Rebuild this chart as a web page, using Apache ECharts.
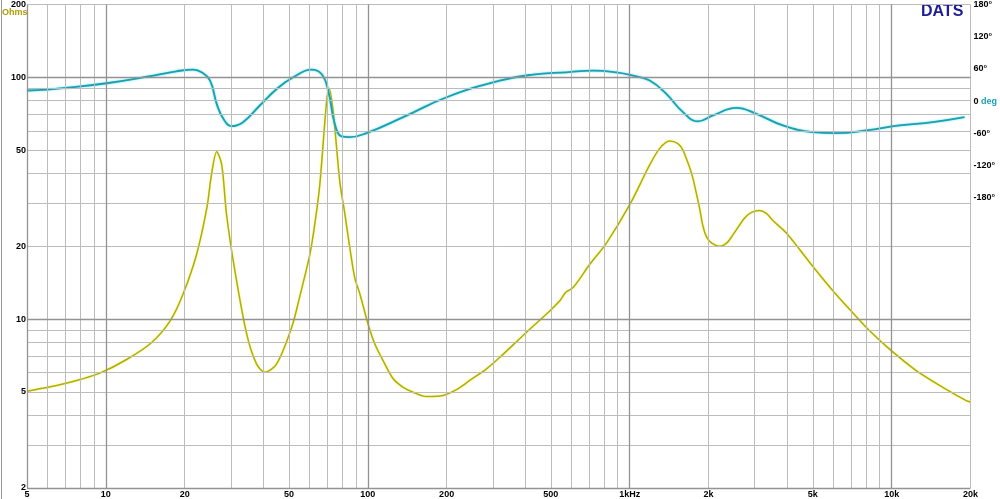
<!DOCTYPE html>
<html>
<head>
<meta charset="utf-8">
<script src="https://cdn.jsdelivr.net/npm/echarts@6/dist/echarts.min.js"></script>
<style>html,body{margin:0;padding:0;background:#fff;}#c{width:1000px;height:499px;}</style>
</head>
<body>
<div id="c"></div>
<script>
// Impedance magnitude (Ohms) vs frequency (Hz)
const impFreq = [
  5, 6.01, 6.98, 7.97, 9.49, 12.0, 14.96, 17.6, 19.7, 22.2,
  24.3, 25.3, 26.5, 27.7, 28.9, 31.1, 34.5, 37.6, 40.5, 44.9,
  51.2, 55.0, 60.1, 62.8, 65.6, 69.6, 71.2, 73.8, 78.2, 81.8,
  85.4, 89.2, 93.3, 100.3, 106.4, 114.4, 125, 136.5, 149, 167.5,
  193.9, 218, 245, 284, 319, 403, 495, 541, 570, 608,
  703, 815, 1000, 1192, 1302, 1420, 1528, 1597, 1646, 1694,
  1744, 1801, 1849, 1904, 1967, 2056, 2205, 2345, 2478, 2746,
  2920, 3133, 3332, 3512, 3961, 4453, 5004, 5965, 7112, 8236,
  9816, 12413, 15680, 19260, 20000];
const impOhm = [
  5.03, 5.22, 5.41, 5.62, 5.97, 6.8, 8.0, 9.83, 12.66, 18.5,
  28.8, 39.5, 49.2, 43.4, 27.0, 15.8, 8.66, 6.52, 6.02, 6.52,
  9.22, 12.4, 18.5, 24.8, 36.0, 79.0, 89.6, 71.9, 37.0, 27.1,
  19.7, 14.8, 12.7, 9.52, 7.88, 6.73, 5.66, 5.22, 4.98, 4.78,
  4.83, 5.10, 5.57, 6.22, 6.94, 8.80, 10.8, 11.9, 12.9, 13.5,
  16.8, 20.6, 29.7, 43.4, 50.8, 54.5, 53.2, 50.0, 46.0, 42.3,
  38.1, 32.7, 28.7, 24.2, 21.8, 20.6, 20.0, 20.6, 22.3, 26.2,
  27.6, 28.1, 27.3, 25.6, 22.7, 19.4, 16.5, 13.1, 10.6, 8.94,
  7.51, 6.12, 5.22, 4.60, 4.54];

// Phase (degrees) vs frequency (Hz)
const phFreq = [
  5, 5.94, 6.98, 10.07, 15.2, 18.6, 21.6, 23.2, 25.0, 26.5,
  28.1, 30.2, 33.4, 38.7, 44.9, 51.9, 61.0, 66.6, 70.6, 74.8,
  79.4, 85.4, 98.9, 136.5, 200, 319, 427, 573, 724, 890,
  1029, 1192, 1380, 1597, 1822, 2079, 2553, 3044, 3845, 5004,
  6146, 8000, 10724, 14359, 18974];
const phDeg = [
  19.9, 21.7, 24.7, 33.4, 47.7, 55.7, 58.8, 53.8, 38.4, -5.0,
  -32.8, -46.4, -39.0, -8.0, 22.8, 44.5, 58.8, 50.7, 19.9, -42.1,
  -65.5, -66.8, -59.4, -29.7, 7.4, 38.4, 49.5, 53.8, 57.0, 53.8,
  47.7, 38.4, 13.5, -20.4, -37.7, -26.5, -12.4, -23.6, -45.1, -57.5,
  -59.4, -54.4, -45.1, -39.0, -29.7];

// Tick labels
const xTickValues = [5, 10, 20, 50, 100, 200, 500, 1000, 2000, 5000, 10000, 20000];
const xTickLabels = ['5', '10', '20', '50', '100', '200', '500', '1kHz', '2k', '5k', '10k', '20k'];
const yTickValues = [2, 5, 10, 20, 50, 100, 200];
const yTickLabels = ['2', '5', '10', '20', '50', '100', '200'];
const phTickValues = [180, 120, 60, 0, -60, -120, -180];

// Grid line positions
const xGridMinor = [6, 7, 8, 9, 20, 30, 40, 50, 60, 70, 80, 90, 200, 300, 400, 500, 600, 700, 800, 900, 2000, 3000, 4000, 5000, 6000, 7000, 8000, 9000, 20000];
const xGridMajor = [5, 10, 100, 1000, 10000];
const yGridMinor = [3, 4, 5, 6, 7, 8, 9, 20, 30, 40, 50, 60, 70, 80, 90, 200];
const yGridMajor = [2, 10, 100];

const FONT = 'Arial, "Liberation Sans", sans-serif';
const MINOR = '#bcbcbc';
const MAJOR = '#939393';

const gridLines = []
  .concat(xGridMinor.map(v => ({ xAxis: v, lineStyle: { color: MINOR, width: 1, type: 'solid' } })))
  .concat(yGridMinor.map(v => ({ yAxis: v, lineStyle: { color: MINOR, width: 1, type: 'solid' } })))
  .concat(xGridMajor.map(v => ({ xAxis: v, lineStyle: { color: MAJOR, width: 1.3, type: 'solid' } })))
  .concat(yGridMajor.map(v => ({ yAxis: v, lineStyle: { color: MAJOR, width: 1.3, type: 'solid' } })));

const chart = echarts.init(document.getElementById('c'), null, { renderer: 'canvas' });
chart.setOption({
  animation: false,
  backgroundColor: '#ffffff',
  grid: { left: 27, right: 29, top: 2, bottom: 11, containLabel: false },
  xAxis: {
    type: 'log', logBase: 10, min: 5, max: 20000,
    axisLine: { show: false }, axisTick: { show: false }, splitLine: { show: false },
    axisLabel: {
      customValues: xTickValues,
      formatter: v => { const i = xTickValues.findIndex(t => Math.abs(t - v) / t < 1e-6); return i >= 0 ? xTickLabels[i] : ''; },
      fontFamily: FONT, fontWeight: 'bold', fontSize: 9, color: '#000', margin: 2
    }
  },
  yAxis: [{
    type: 'log', logBase: 10, min: 2, max: 200,
    axisLine: { show: false }, axisTick: { show: false }, splitLine: { show: false },
    axisLabel: {
      customValues: yTickValues,
      formatter: v => { const i = yTickValues.findIndex(t => Math.abs(t - v) / t < 1e-6); return i >= 0 ? yTickLabels[i] : ''; },
      fontFamily: FONT, fontWeight: 'bold', fontSize: 9, color: '#000', margin: 1
    }
  }, {
    type: 'value', position: 'right', min: -720, max: 180, interval: 60,
    axisLine: { show: false }, axisTick: { show: false }, splitLine: { show: false },
    axisLabel: {
      formatter: v => {
        if (phTickValues.indexOf(v) < 0) return '';
        if (v === 0) return '{a|0 }{b|deg}';
        return v + '°';
      },
      rich: {
        a: { fontFamily: FONT, fontWeight: 'bold', fontSize: 9, color: '#000' },
        b: { fontFamily: FONT, fontWeight: 'bold', fontSize: 9, color: '#1a9fb0' }
      },
      fontFamily: FONT, fontWeight: 'bold', fontSize: 9, color: '#000', margin: 3
    }
  }],
  series: [{
    name: 'grid', type: 'line', z: 1, xAxisIndex: 0, yAxisIndex: 0,
    data: [[5, 2]], symbol: 'none', lineStyle: { opacity: 0 }, silent: true,
    markLine: { silent: true, symbol: 'none', label: { show: false }, animation: false, data: gridLines }
  }, {
    name: 'Impedance', type: 'line', z: 3, xAxisIndex: 0, yAxisIndex: 0,
    data: impFreq.map((f, i) => [f, impOhm[i]]),
    symbol: 'none', smooth: 0.3,
    lineStyle: { color: '#b2ae00', width: 1.5, shadowColor: 'rgba(240,240,80,0.8)', shadowBlur: 2 }
  }, {
    name: 'Phase', type: 'line', z: 4, xAxisIndex: 0, yAxisIndex: 1,
    data: phFreq.map((f, i) => [f, phDeg[i]]),
    symbol: 'none', smooth: 0.45,
    lineStyle: { color: '#1e9fb0', width: 1.8, shadowColor: 'rgba(60,220,235,0.9)', shadowBlur: 2 }
  }],
  graphic: [
    { type: 'line', shape: { x1: 1.5, y1: 0, x2: 1.5, y2: 499 }, style: { stroke: '#9a9a9a', lineWidth: 1 }, silent: true },
    { type: 'text', left: 2, top: 8, style: { text: 'Ohms', font: 'bold 9px ' + FONT, fill: '#b09a00' }, silent: true },
    { type: 'text', left: 921, top: 4, style: { text: 'DATS', font: 'bold 16px ' + FONT, fill: '#1c1c96' }, silent: true }
  ]
});
</script>
</body>
</html>
